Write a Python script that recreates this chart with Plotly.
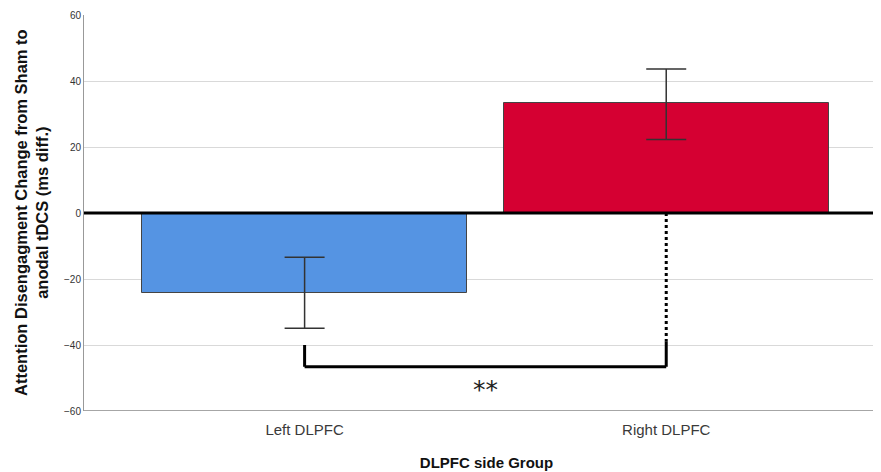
import plotly.graph_objects as go

categories = ["Left DLPFC", "Right DLPFC"]
means = [-24.1, 33.2]
err_upper = [10.7, 10.4]   # upper CI minus mean
err_lower = [10.8, 10.9]   # mean minus lower CI
colors = ["#5594E3", "#D50032"]

y_ticks = [-60, -40, -20, 0, 20, 40, 60]
bracket_y = -46.6
bracket_left_top = -40
bracket_right_top = -39
sig_label = "**"
sig_label_y = -53.5

x_pos = list(range(len(categories)))

fig = go.Figure()
fig.add_trace(go.Bar(
    x=x_pos, y=means, width=0.9,
    marker=dict(color=colors, line=dict(color="#444444", width=1)),
    error_y=dict(type="data", symmetric=False, array=err_upper, arrayminus=err_lower,
                 color="#333333", thickness=1.5, width=20),
    showlegend=False,
))

# zero line
fig.add_shape(type="line", xref="paper", x0=0, x1=1, y0=0, y1=0,
              line=dict(color="black", width=3), layer="above")
# significance bracket
fig.add_shape(type="line", x0=x_pos[0], x1=x_pos[0], y0=bracket_left_top, y1=bracket_y,
              line=dict(color="black", width=3))
fig.add_shape(type="line", x0=x_pos[0], x1=x_pos[1], y0=bracket_y, y1=bracket_y,
              line=dict(color="black", width=3))
fig.add_shape(type="line", x0=x_pos[1], x1=x_pos[1], y0=bracket_right_top, y1=bracket_y,
              line=dict(color="black", width=3))
fig.add_shape(type="line", x0=x_pos[1], x1=x_pos[1], y0=0, y1=bracket_right_top,
              line=dict(color="black", width=3, dash="dot"))
fig.add_annotation(x=(x_pos[0] + x_pos[1]) / 2, y=sig_label_y, text=sig_label,
                   showarrow=False, font=dict(size=25, color="#222222", family="DejaVu Sans"))

# y-axis title
fig.add_annotation(xref="paper", yref="paper", x=0, y=0.5, xshift=-53,
                   text="<b>Attention Disengagment Change from Sham to<br>anodal tDCS (ms diff.)</b>",
                   textangle=-90, showarrow=False, xanchor="center", yanchor="middle",
                   font=dict(size=16.5, color="#111111", family="Liberation Sans"))

fig.update_layout(
    width=881, height=472,
    margin=dict(l=76, r=0, t=7, b=69),
    paper_bgcolor="white", plot_bgcolor="white",
    font=dict(family="Liberation Sans, Arial, sans-serif", color="#333333"),
    bargap=0,
    xaxis=dict(
        range=[-0.610, 1.616], tickvals=x_pos, ticktext=categories, automargin=False,
        tickfont=dict(size=15, color="#3a3a3a"), ticks="", showgrid=False, zeroline=False,
        showline=False, ticklabelstandoff=8,
        title=dict(text="<b>DLPFC side Group</b>", font=dict(size=15, color="#111111"), standoff=20),
    ),
    yaxis=dict(
        range=[-60, 60], tickvals=y_ticks, tickfont=dict(size=10, color="#333333"), automargin=False,
        showgrid=True, gridcolor="#D9D9D9", gridwidth=1, zeroline=False,
        showline=True, linecolor="#999999", linewidth=1, ticks="", ticklen=0,
    ),
)
# bottom axis line at -60
fig.add_shape(type="line", xref="paper", x0=0, x1=1, y0=-60, y1=-60,
              line=dict(color="#888888", width=1.5), layer="above")

fig.write_html("out.html")
